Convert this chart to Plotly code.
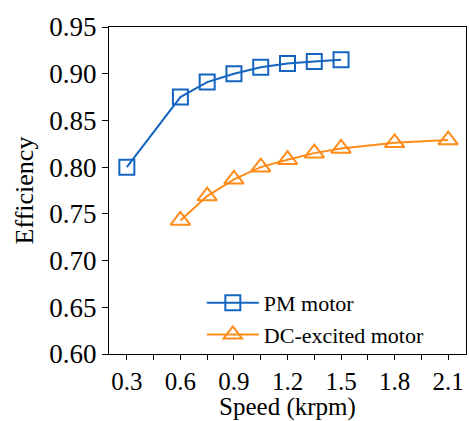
import plotly.graph_objects as go

pm_speed = [0.3, 0.6, 0.75, 0.9, 1.05, 1.2, 1.35, 1.5]
pm_eff = [0.800, 0.875, 0.891, 0.900, 0.907, 0.911, 0.913, 0.915]
dc_speed = [0.6, 0.75, 0.9, 1.05, 1.2, 1.35, 1.5, 1.8, 2.1]
dc_eff = [0.743, 0.769, 0.787, 0.800, 0.808, 0.815, 0.820, 0.826, 0.829]
x_ticks = [0.3, 0.6, 0.9, 1.2, 1.5, 1.8, 2.1]
y_ticks = [0.60, 0.65, 0.70, 0.75, 0.80, 0.85, 0.90, 0.95]

blue = "#1464c0"
orange = "#ff8c1a"
font = "'Liberation Serif', 'Times New Roman', 'DejaVu Serif', serif"

fig = go.Figure()
fig.add_trace(go.Scatter(
    x=pm_speed, y=pm_eff, mode="lines+markers", name="PM motor",
    line=dict(color=blue, width=2),
    marker=dict(symbol="square-open", size=15, color=blue, line=dict(width=2)),
))
fig.add_trace(go.Scatter(
    x=dc_speed, y=dc_eff, mode="lines+markers", name="DC-excited motor",
    line=dict(color=orange, width=2),
    marker=dict(symbol="triangle-up-open", size=17, color=orange, line=dict(width=2)),
))

fig.update_layout(
    width=469, height=421,
    margin=dict(l=109, r=3, t=27, b=67),
    paper_bgcolor="white", plot_bgcolor="white",
    font=dict(family=font, color="black", size=27),
    showlegend=True,
    legend=dict(
        x=0.26, y=0.22, xanchor="left", yanchor="top",
        bgcolor="rgba(0,0,0,0)", font=dict(size=22, family=font),
        tracegroupgap=0, itemwidth=52,
    ),
    xaxis=dict(
        range=[0.2, 2.2], tickvals=x_ticks, ticktext=[f"{v:.1f}" for v in x_ticks],
        ticks="outside", ticklen=5, tickwidth=1.2, tickcolor="black",
        tickfont=dict(size=25, family=font),
        minor=dict(dtick=0.15, tick0=0.3, ticks="outside", ticklen=5, tickwidth=1.2, tickcolor="black"),
        showline=True, linecolor="black", linewidth=1.2, mirror=True,
        showgrid=False, zeroline=False, automargin=False,
        title=dict(text="Speed (krpm)", font=dict(size=25, family=font), standoff=14),
    ),
    yaxis=dict(
        range=[0.60, 0.95], tickvals=y_ticks, ticktext=[f"{v:.2f}" for v in y_ticks],
        ticks="outside", ticklen=6, tickwidth=1.2, tickcolor="black",
        showline=True, linecolor="black", linewidth=1.2, mirror=True,
        showgrid=False, zeroline=False, automargin=False,
        title=dict(text="Efficiency", font=dict(size=26, family=font), standoff=8),
    ),
)

fig.write_html("out.html")
